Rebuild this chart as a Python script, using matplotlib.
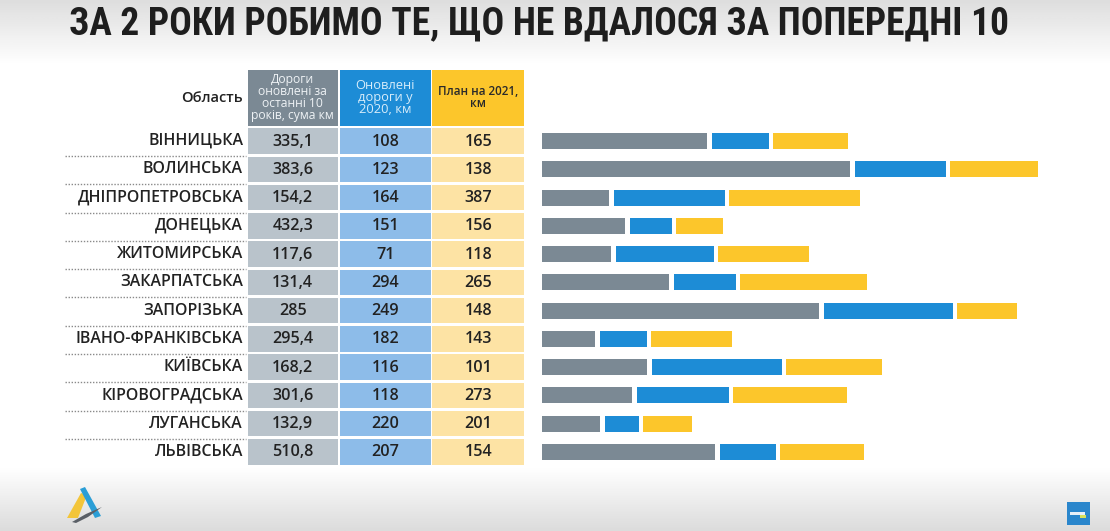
import numpy as np
import matplotlib.pyplot as plt
from matplotlib.patches import Rectangle, Polygon

# Table data
regions = ["ВІННИЦЬКА", "ВОЛИНСЬКА", "ДНІПРОПЕТРОВСЬКА", "ДОНЕЦЬКА", "ЖИТОМИРСЬКА",
           "ЗАКАРПАТСЬКА", "ЗАПОРІЗЬКА", "ІВАНО-ФРАНКІВСЬКА", "КИЇВСЬКА",
           "КІРОВОГРАДСЬКА", "ЛУГАНСЬКА", "ЛЬВІВСЬКА"]
roads_10y = ["335,1", "383,6", "154,2", "432,3", "117,6", "131,4", "285", "295,4",
             "168,2", "301,6", "132,9", "510,8"]
roads_2020 = [108, 123, 164, 151, 71, 294, 249, 182, 116, 118, 220, 207]
plan_2021 = [165, 138, 387, 156, 118, 265, 148, 143, 101, 273, 201, 154]

# bar lengths as drawn in the infographic (they don't follow the table numbers)
bar_gray = [165, 308, 67, 83, 69, 127, 277, 53, 105, 90, 58, 173]
bar_blue = [57, 91, 111, 42, 98, 62, 129, 47, 130, 92, 34, 56]
bar_yellow = [75, 88, 131, 47, 91, 127, 60, 81, 96, 114, 49, 84]

headers = ["Дороги\nоновлені за\nостанні 10\nроків, сума км",
           "Оновлені\nдороги у\n2020, км",
           "План на 2021,\nкм"]
title = "ЗА 2 РОКИ РОБИМО ТЕ, ЩО НЕ ВДАЛОСЯ ЗА ПОПЕРЕДНІ 10"

GRAY, BLUE, YELLOW = "#7b8994", "#1d8cd6", "#fcc62b"
GRAY_L, BLUE_L, YELLOW_L = "#b9c3cb", "#8dbce9", "#fde3a4"
TXT = "#222222"

W, H = 1110, 531
fig = plt.figure(figsize=(W / 100, H / 100), dpi=100)

# main canvas in pixel coords
ax = fig.add_axes([0, 0, 1, 1])
ax.set_xlim(0, W)
ax.set_ylim(H, 0)
ax.axis("off")

# background: grey fade at the top and bottom
yy = np.linspace(0, 1, 300)
shade = np.ones_like(yy)
shade = np.minimum(shade, 0.87 + 0.13 * np.clip(yy / 0.12, 0, 1))
shade = np.minimum(shade, 1.0 - 0.14 * np.clip((yy - 0.88) / 0.12, 0, 1))
bg = np.repeat(shade[:, None], 2, axis=1)
ax.imshow(bg, cmap="gray", vmin=0, vmax=1, extent=[0, W, H, 0], aspect="auto", zorder=0)

ax.text(539, 24, title, ha="center", va="center", fontsize=27, fontweight="bold",
        family=["Roboto Condensed", "Open Sans Condensed", "Roboto"], color="#1e1e1e")

# table geometry
y0, pitch, cell_h = 141, 28.27, 25.5
cols = [(247.7, 337.7), (340, 430.7), (432.3, 524.3)]
head_colors = [GRAY, BLUE, YELLOW]
cell_colors = [GRAY_L, BLUE_L, YELLOW_L]
head_txt = ["#eef2f5", "#d7ecfa", "#2a2a2a"]
head_size = [8.7, 9.3, 8.4]

for (x1, x2), hc, ht, hs, label in zip(cols, head_colors, head_txt, head_size, headers):
    ax.add_patch(Rectangle((x1, 69.5), x2 - x1, 56, color=hc, lw=0))
    ax.text((x1 + x2) / 2, 97.5, label, ha="center", va="center", fontsize=hs,
            color=ht, family="Open Sans", linespacing=0.9,
            fontweight="semibold" if hc == YELLOW else "normal")

ax.text(243, 98, "Область", ha="right", va="center", fontsize=10.5,
        fontweight="semibold", family="Open Sans", color=TXT)

for i, name in enumerate(regions):
    yc = y0 + i * pitch
    ax.text(243, yc, name, ha="right", va="center", fontsize=11.4,
            fontweight="semibold", family="Open Sans", color=TXT)
    vals = [roads_10y[i], str(roads_2020[i]), str(plan_2021[i])]
    for (x1, x2), cc, v in zip(cols, cell_colors, vals):
        ax.add_patch(Rectangle((x1, yc - cell_h / 2), x2 - x1, cell_h, color=cc, lw=0))
        ax.text((x1 + x2) / 2, yc + 0.5, v, ha="center", va="center", fontsize=11.6,
                fontweight="semibold", family="Open Sans", color=TXT)
    if i < len(regions) - 1:
        ax.plot([65, 246], [yc + pitch / 2 + 1, yc + pitch / 2 + 1], color="#8a8a8a",
                lw=1, ls=(0, (1, 1.2)))

# bars
top = y0 - pitch / 2
bot = y0 + (len(regions) - 1) * pitch + pitch / 2
bx = fig.add_axes([542 / W, 1 - bot / H, 518 / W, (bot - top) / H])
bx.set_xlim(0, 518)
bx.set_ylim(len(regions) - 0.5, -0.5)
bx.axis("off")
gap = 4.5
rows = np.arange(len(regions))
g = np.array(bar_gray)
b = np.array(bar_blue)
yl = np.array(bar_yellow)
bh = 16 / pitch
bx.barh(rows, g, height=bh, color=GRAY, lw=0)
bx.barh(rows, b, left=g + gap, height=bh, color=BLUE, lw=0)
bx.barh(rows, yl, left=g + b + 2 * gap, height=bh, color=YELLOW, lw=0)

# logo bottom-left
ax.add_patch(Polygon([[67, 518], [78, 518], [87, 495], [81, 493]], color="#f3c53a", lw=0))
ax.add_patch(Polygon([[80, 489], [85, 487], [101, 516], [95, 518]], color="#2b9ed6", lw=0))
ax.add_patch(Polygon([[72, 522], [86, 514], [102, 507], [88, 517], [76, 523]],
                     color="#5a5f66", lw=0))

# icon bottom-right
ax.add_patch(Rectangle((1067, 502), 23, 23, color="#2a86cc", lw=0))
ax.add_patch(Rectangle((1070, 512), 15, 3, color="#e8f0f8", lw=0))
ax.add_patch(Rectangle((1080, 515), 6, 3, color="#d8e05a", lw=0))

fig.savefig("out.png", dpi=100)
